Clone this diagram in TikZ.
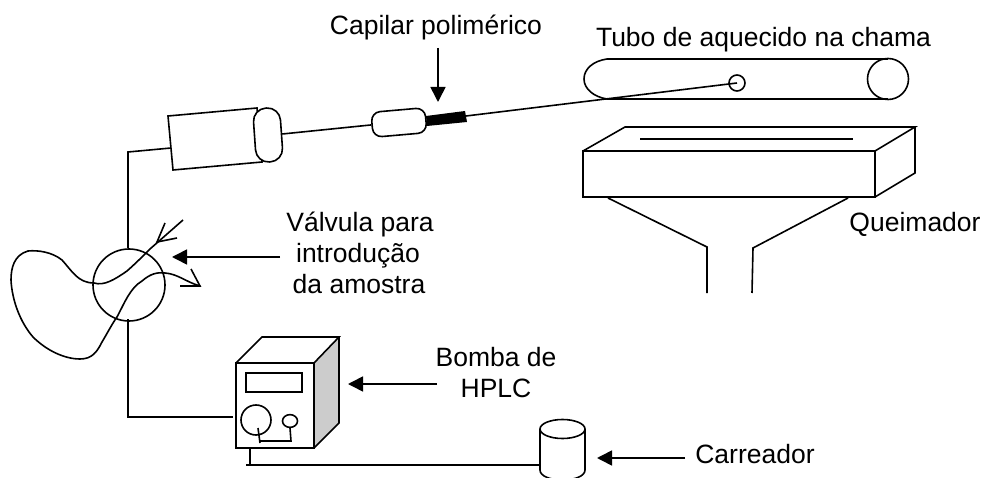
\documentclass[tikz,border=0pt]{standalone}
\usepackage{fontspec}
\setmainfont{Liberation Sans}
\usetikzlibrary{arrows.meta}
\tikzset{
  x=1pt,y=-1pt,
  ln/.style={line width=1.6pt,black,line join=miter},
  lbl/.style={inner sep=0pt,anchor=base,font=\fontsize{26.5}{30}\selectfont,text=black},
  ptr/.style={line width=1.6pt,-{Triangle[length=15pt,width=15pt]}},
}
\begin{document}
\begin{tikzpicture}
\useasboundingbox (0,0) rectangle (982,478);
% labels
\node[lbl] (lcap) at (436,35) {Capilar polimérico};
\node[lbl] (ltub) at (763.5,47) {Tubo de aquecido na chama};
\node[lbl] (lval1) at (360,232) {Válvula para};
\node[lbl] (lval2) at (358,262) {introdução};
\node[lbl] (lval3) at (359,293) {da amostra};
\node[lbl] (lque) at (915,232) {Queimador};
\node[lbl] (lbom1) at (496,366) {Bomba de};
\node[lbl] (lbom2) at (496,397) {HPLC};
\node[lbl] (lcar) at (755,463) {Carreador};
% burner
\draw[ln] (583,151) rectangle (875,197);
\draw[ln] (583,151) -- (625,127) -- (915,127) -- (875,151);
\draw[ln] (915,127) -- (915,173) -- (875,197);
\draw[ln] (640,139) -- (853,139);
\draw[ln] (608,198) -- (707,247) -- (707,293);
\draw[ln] (848,198) -- (753,248) -- (752,293);
% heated tube
\draw[ln] (607,59) -- (888,59);
\draw[ln] (607,99) -- (888,99);
\draw[ln] (607,59) .. controls (593,61) and (584,69) .. (584,79) .. controls (584,89) and (594,97) .. (607,99);
\node[ln,draw,inner sep=0pt,circle,minimum size=41pt] (tubeEnd) at (888,79) {};
\node[ln,draw,circle,inner sep=0pt,minimum size=16pt] (hole) at (737,83) {};
% column / capillary
\coordinate (elbow) at (128,152);
\coordinate (topv) at (128,248);
\draw[ln] (topv) -- (elbow) -- (171,148);
\draw[ln,fill=white] (168,116) -- (257,108) -- (262,162) -- (173,170) -- cycle;
\node[ln,draw,fill=white,rounded corners=13pt,minimum width=27pt,minimum height=54pt,inner sep=0pt,rotate=4] (pill) at (268,135) {};
\node[ln,draw,fill=white,rounded corners=9pt,minimum width=54pt,minimum height=25pt,inner sep=0pt,rotate=5] (pill2) at (399,122.5) {};
\draw[ln] (pill.east) -- (pill2.west);
\fill[black] (426,116) -- (465,111) -- (467,122) -- (427,126) -- cycle;
\draw[ln] (466,116) -- (hole.center);
% valve
\node[ln,draw,circle,inner sep=0pt,minimum size=72pt] (valve) at (129,285) {};
\coordinate (lowv) at (128,319);
\coordinate (pumpin) at (233,417);
\draw[ln] (lowv) -- (128,417) -- (pumpin);
% loop
\draw[ln] (94,283) .. controls (78,283) and (72,271) .. (62,260)
  .. controls (52,252) and (38,250) .. (28,251)
  .. controls (14,255) and (11,268) .. (11,280)
  .. controls (12,300) and (20,322) .. (33,337)
  .. controls (46,350) and (64,359) .. (80,359)
  .. controls (92,359) and (97,352) .. (102,342)
  .. controls (108,332) and (112,324) .. (117,317)
  .. controls (124,304) and (130,288) .. (142,281)
  .. controls (150,274) and (157,272) .. (165,273)
  .. controls (178,274) and (186,282) .. (200,286);
\draw[ln] (94,283) .. controls (104,286) and (114,280) .. (127,271)
  .. controls (135,264) and (143,256) .. (150,249) -- (183,220);
% open arrowheads
\draw[ln] (191,269) -- (200,286) -- (180,286);
\draw[ln] (165,223) -- (157,242) -- (177,238);
% pointers
\draw[ptr] (438,48) -- (438,102);
\draw[ptr] (280,257) -- (172,257);
\draw[ptr] (437,384) -- (348,384);
\draw[ptr] (685,458) -- (597,458);
% pump
\fill[black!20] (314,363) -- (339,337) -- (339,423) -- (314,448) -- cycle;
\draw[ln] (236,363) rectangle (314,448);
\draw[ln] (236,363) -- (262,337) -- (339,337) -- (314,363);
\draw[ln] (339,337) -- (339,423) -- (314,448);
\draw[ln] (246,373) rectangle (302,392);
\node[ln,draw,circle,inner sep=0pt,minimum size=30pt] (dial) at (256,420) {};
\node[ln,draw,circle,inner sep=0pt,minimum size=15pt,yscale=0.85] (knob) at (290,421) {};
\coordinate (dialend) at (260,443);
\draw[ln] (258,428) -- (dialend);
\draw[ln] (259,441) -- (291,441) -- (knob.south);
% carrier line and reservoir
\coordinate (cl) at (246,465);
\draw[ln] (250,449) -- (250,465);
\draw[ln] (cl) -- (540,465);
\draw[ln] (540,429) -- (540,470) .. controls (540,476) and (550,480) .. (562.5,480) .. controls (575,480) and (585,476) .. (585,470) -- (585,429);
\draw[ln] (562.5,429) ellipse [x radius=22.5,y radius=9.5];
\end{tikzpicture}
\end{document}
